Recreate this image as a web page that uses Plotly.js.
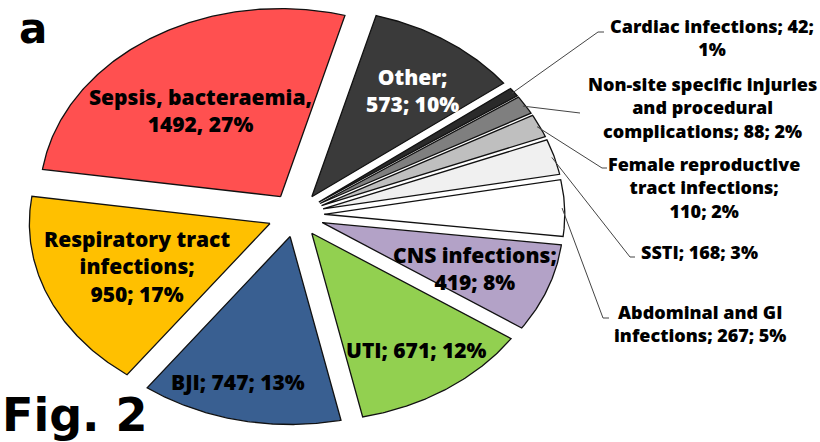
<!DOCTYPE html>
<html><head><meta charset="utf-8">
<script src="https://cdn.plot.ly/plotly-3.0.1.min.js"></script>
<style>html,body{margin:0;padding:0;background:#fff}</style>
</head><body>
<div id="chart" style="width:820px;height:442px"></div>
<script>
// ---- data ----
const categories = ["Other", "Cardiac infections", "Non-site specific injuries and procedural complications",
  "Female reproductive tract infections", "SSTI", "Abdominal and GI infections", "CNS infections",
  "UTI", "BJI", "Respiratory tract infections", "Sepsis, bacteraemia"];
const counts = [573, 42, 88, 110, 168, 267, 419, 671, 747, 950, 1492];
const percents = [10, 1, 2, 2, 3, 5, 8, 12, 13, 17, 27];
const labelTexts = [
  "Other;<br>573; 10%",
  "Cardiac infections; 42;<br>1%",
  "Non-site specific injuries<br>and procedural<br>complications; 88; 2%",
  "Female reproductive<br>tract infections;<br>110; 2%",
  "SSTI; 168; 3%",
  "Abdominal and GI<br>infections; 267; 5%",
  "CNS infections;<br>419; 8%",
  "UTI; 671; 12%",
  "BJI; 747; 13%",
  "Respiratory tract<br>infections;<br>950; 17%",
  "Sepsis, bacteraemia,<br>1492, 27%"
];
const colors = ["#3a3a3a", "#2a2a2a", "#7f7f7f", "#bfbfbf", "#f0f0f0", "#ffffff",
  "#b3a2c7", "#92d050", "#395f91", "#ffc000", "#ff5050"];

// ---- layout / geometry (style, not data) ----
const cx = 296, cy = 215, R = 188, sx = 1.28, pull = 22, startDeg = 15.5;
const total = counts.reduce((a, b) => a + b, 0);
const rad = d => d * Math.PI / 180;
function pt(aDeg, r, ox, oy) {
  return [ox + r * sx * Math.sin(rad(aDeg)), oy - r * Math.cos(rad(aDeg))];
}

const traces = [];
const slices = [];
let cum = 0;
counts.forEach((v, i) => {
  const a0 = startDeg + 360 * cum / total;
  const a1 = a0 + 360 * v / total;
  cum += v;
  const mid = (a0 + a1) / 2;
  const apex = pt(mid, pull, cx, cy);
  const xs = [apex[0]], ys = [apex[1]];
  const n = Math.max(2, Math.ceil((a1 - a0) / 0.5));
  for (let k = 0; k <= n; k++) {
    const p = pt(a0 + (a1 - a0) * k / n, R, apex[0], apex[1]);
    xs.push(p[0]); ys.push(p[1]);
  }
  xs.push(apex[0]); ys.push(apex[1]);
  slices.push({mid, apex});
  traces.push({
    type: "scatter", mode: "lines", x: xs, y: ys, fill: "toself",
    fillcolor: colors[i], line: {color: "#111", width: 1.3},
    name: categories[i], hoverinfo: "name", showlegend: false
  });
});

// leader lines for the small slices
const leaderEnds = {1: [[598, 32], [604, 32]], 2: [[580, 113]], 3: [[602, 168], [607, 168]],
  4: [[630, 257], [635, 257]], 5: [[603, 318], [609, 318]]};
Object.keys(leaderEnds).forEach(k => {
  const s = slices[k];
  const p0 = pt(s.mid, R - 2, s.apex[0], s.apex[1]);
  const xs = [p0[0]], ys = [p0[1]];
  leaderEnds[k].forEach(p => { xs.push(p[0]); ys.push(p[1]); });
  traces.push({type: "scatter", mode: "lines", x: xs, y: ys,
    line: {color: "#444", width: 1}, hoverinfo: "skip", showlegend: false});
});

const labelPos = [[412, 90], [712, 37], [702, 107], [704, 187], [699, 252], [700, 323],
  [475, 268], [416, 350], [238, 382], [137, 266], [200, 110]];
const bigFont = {family: "Open Sans", size: 21, color: "#000", weight: 800};
const smallFont = {family: "Open Sans", size: 18, color: "#000", weight: 800};
const annotations = labelTexts.map((t, i) => ({
  x: labelPos[i][0], y: labelPos[i][1], xref: "x", yref: "y",
  text: t, showarrow: false, xanchor: "center", yanchor: "middle",
  align: "center",
  font: (i >= 1 && i <= 5) ? smallFont : Object.assign({}, bigFont, {color: i === 0 ? "#fff" : "#000"})
}));
annotations.push({x: 33, y: 28, xref: "x", yref: "y", text: "<b>a</b>", showarrow: false,
  xanchor: "center", yanchor: "middle", font: {family: "DejaVu Sans", size: 42, color: "#000"}});
annotations.push({x: 75, y: 415, xref: "x", yref: "y", text: "<b>Fig. 2</b>", showarrow: false,
  xanchor: "center", yanchor: "middle", font: {family: "DejaVu Sans", size: 46, color: "#000"}});

const layout = {
  width: 820, height: 442, margin: {l: 0, r: 0, t: 0, b: 0},
  paper_bgcolor: "#fff", plot_bgcolor: "#fff",
  xaxis: {range: [0, 820], visible: false, fixedrange: true},
  yaxis: {range: [442, 0], visible: false, fixedrange: true},
  showlegend: false, annotations: annotations, hovermode: false
};
Plotly.newPlot("chart", traces, layout, {displayModeBar: false, staticPlot: true});
</script>
</body></html>
